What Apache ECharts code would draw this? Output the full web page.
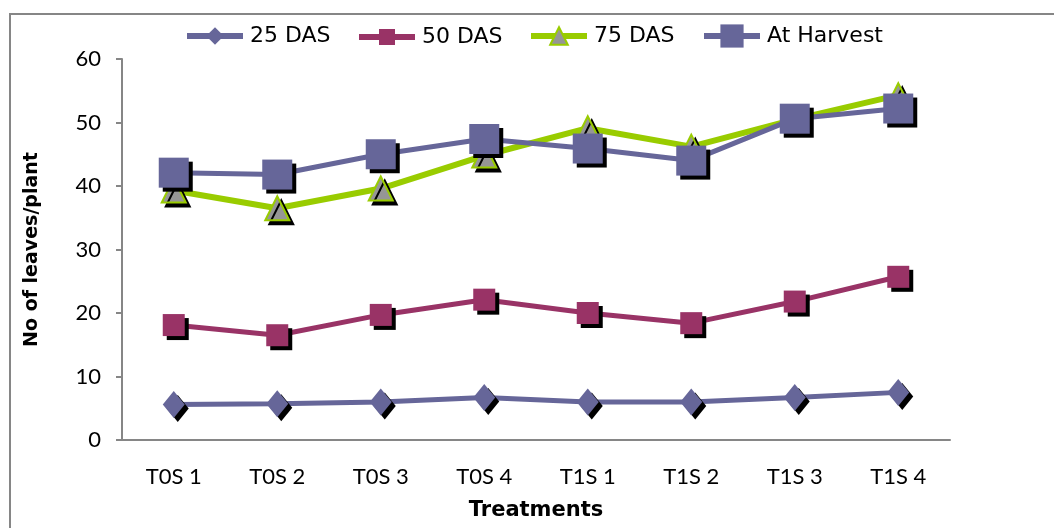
<!DOCTYPE html>
<html>
<head>
<meta charset="utf-8">
<script src="https://cdn.jsdelivr.net/npm/echarts@6/dist/echarts.min.js"></script>
<style>
  html, body { margin: 0; padding: 0; background: #fff; }
  #chart { width: 1054px; height: 528px; }
</style>
</head>
<body>
<div id="chart"></div>
<script>
// Treatments on the x axis
const categories = ['T0S 1', 'T0S 2', 'T0S 3', 'T0S 4', 'T1S 1', 'T1S 2', 'T1S 3', 'T1S 4'];

// Number of leaves per plant at each stage
const das25 = [5.6, 5.7, 6.0, 6.7, 6.0, 6.0, 6.7, 7.5];
const das50 = [18.1, 16.5, 19.7, 22.1, 20.0, 18.4, 21.8, 25.7];
const das75 = [39.3, 36.5, 39.6, 44.8, 49.1, 46.2, 50.5, 54.3];
const atHarvest = [42.1, 41.8, 45.0, 47.4, 45.9, 44.0, 50.6, 52.2];

const seriesNames = ['25 DAS', '50 DAS', '75 DAS', 'At Harvest'];
const yTicks = { min: 0, max: 60, interval: 10 };

const LABEL_FONT = 'Lato, "Liberation Sans", sans-serif';
const TITLE_FONT = '"DejaVu Sans", sans-serif';
const AXIS_GRAY = '#868686';

const markerShadow = {
  shadowColor: '#000',
  shadowBlur: 0,
  shadowOffsetX: 4,
  shadowOffsetY: 4
};

function lineSeries(name, data, color, symbol, size, lineWidth, fill, border) {
  return {
    name: name,
    type: 'line',
    data: data,
    symbol: symbol,
    symbolSize: size,
    showAllSymbol: true,
    lineStyle: { color: color, width: lineWidth },
    itemStyle: Object.assign({
      color: fill || color,
      borderColor: border || fill || color,
      borderWidth: border ? 2 : 0
    }, markerShadow),
    emphasis: { disabled: true },
    z: 2
  };
}

// One legend block per series so each key can carry its own marker size;
// the text line height equals the icon height so both share one centre line.
function legendBlock(name, left, iconHeight, lineWidth) {
  return {
    data: [name],
    left: left,
    top: 36 - iconHeight / 2,
    itemWidth: 56,
    itemHeight: iconHeight,
    itemGap: 0,
    padding: 0,
    selectedMode: false,
    lineStyle: { width: lineWidth },
    itemStyle: { shadowColor: 'transparent', shadowOffsetX: 0, shadowOffsetY: 0 },
    textStyle: {
      fontFamily: TITLE_FONT, fontSize: 22, color: '#000',
      lineHeight: iconHeight, padding: [0, 0, 0, 2]
    }
  };
}

const chart = echarts.init(document.getElementById('chart'), null, { renderer: 'canvas' });

chart.setOption({
  animation: false,
  backgroundColor: '#fff',
  grid: { left: 122, right: 104, top: 59, bottom: 88, containLabel: false },
  legend: [
    legendBlock(seriesNames[0], 184, 22, 6),
    legendBlock(seriesNames[1], 356, 20, 6),
    legendBlock(seriesNames[2], 528, 22, 6),
    legendBlock(seriesNames[3], 701, 29, 6)
  ],
  xAxis: {
    type: 'category',
    data: categories,
    boundaryGap: true,
    axisLine: { lineStyle: { color: AXIS_GRAY, width: 2 } },
    axisTick: { show: false },
    axisLabel: { fontFamily: LABEL_FONT, fontSize: 22, color: '#000', margin: 26 },
    name: 'Treatments',
    nameLocation: 'middle',
    nameGap: 60,
    nameTextStyle: { fontFamily: TITLE_FONT, fontSize: 21, fontWeight: 'bold', color: '#000' }
  },
  yAxis: {
    type: 'value',
    min: yTicks.min,
    max: yTicks.max,
    interval: yTicks.interval,
    splitLine: { show: false },
    axisLine: { show: true, lineStyle: { color: AXIS_GRAY, width: 2 } },
    axisTick: { show: true, inside: false, length: 6, lineStyle: { color: AXIS_GRAY, width: 2 } },
    axisLabel: { fontFamily: LABEL_FONT, fontSize: 22, color: '#000', margin: 21 },
    name: 'No of leaves/plant',
    nameLocation: 'middle',
    nameGap: 80,
    nameRotate: 90,
    nameTextStyle: { fontFamily: TITLE_FONT, fontSize: 19, fontWeight: 'bold', color: '#000' }
  },
  graphic: [{
    type: 'rect',
    shape: { x: 10, y: 14, width: 1060, height: 540 },
    style: { fill: 'none', stroke: AXIS_GRAY, lineWidth: 2 },
    silent: true,
    z: -1
  }],
  series: [
    lineSeries(seriesNames[0], das25, '#666699', 'diamond', [22, 27], 5),
    lineSeries(seriesNames[1], das50, '#993366', 'rect', 22, 5),
    lineSeries(seriesNames[2], das75, '#99CC00', 'triangle', 24, 6, '#969696', '#99CC00'),
    lineSeries(seriesNames[3], atHarvest, '#666699', 'rect', 30, 5)
  ]
});
</script>
</body>
</html>
